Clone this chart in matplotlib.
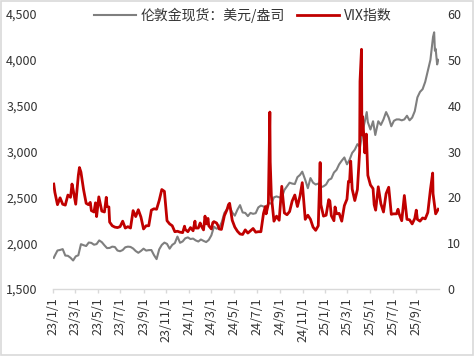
import matplotlib
matplotlib.use("Agg")
import matplotlib.pyplot as plt
import pandas as pd
from matplotlib.patches import Rectangle

plt.rcParams['font.family'] = ['Noto Sans CJK SC', 'DejaVu Sans']

gold_dates = [
 "2023-01-03","2023-01-06","2023-01-13","2023-01-20","2023-01-27","2023-02-03","2023-02-10","2023-02-17","2023-02-24","2023-03-03",
 "2023-03-10","2023-03-17","2023-03-24","2023-03-31","2023-04-07","2023-04-14","2023-04-21","2023-04-28","2023-05-05","2023-05-12",
 "2023-05-19","2023-05-26","2023-06-02","2023-06-09","2023-06-16","2023-06-23","2023-06-30","2023-07-07","2023-07-14","2023-07-21",
 "2023-07-28","2023-08-04","2023-08-11","2023-08-18","2023-08-25","2023-09-01","2023-09-08","2023-09-15","2023-09-22","2023-09-29",
 "2023-10-06","2023-10-13","2023-10-20","2023-10-27","2023-11-03","2023-11-10","2023-11-17","2023-11-24","2023-12-01","2023-12-08",
 "2023-12-15","2023-12-22","2023-12-29",
 "2024-01-05","2024-01-12","2024-01-19","2024-01-26","2024-02-02","2024-02-09","2024-02-16","2024-02-23","2024-03-01","2024-03-08",
 "2024-03-15","2024-03-22","2024-03-29","2024-04-05","2024-04-12","2024-04-19","2024-04-26","2024-05-03","2024-05-10","2024-05-17",
 "2024-05-24","2024-05-31","2024-06-07","2024-06-14","2024-06-21","2024-06-28","2024-07-05","2024-07-12","2024-07-19","2024-07-26",
 "2024-08-02","2024-08-09","2024-08-16","2024-08-23","2024-08-30","2024-09-06","2024-09-13","2024-09-20","2024-09-27","2024-10-04",
 "2024-10-11","2024-10-18","2024-10-25","2024-10-31","2024-11-08","2024-11-15","2024-11-22","2024-11-29","2024-12-06","2024-12-13",
 "2024-12-20","2024-12-27",
 "2025-01-03","2025-01-10","2025-01-17","2025-01-24","2025-01-31","2025-02-07","2025-02-14","2025-02-21","2025-02-28","2025-03-07",
 "2025-03-14","2025-03-21","2025-03-28","2025-04-04","2025-04-11","2025-04-17","2025-04-22","2025-04-25","2025-05-02","2025-05-09",
 "2025-05-15","2025-05-23","2025-05-30","2025-06-06","2025-06-13","2025-06-20","2025-06-27","2025-07-04","2025-07-11","2025-07-18",
 "2025-07-25","2025-08-01","2025-08-08","2025-08-15","2025-08-22","2025-08-29","2025-09-05","2025-09-12","2025-09-19","2025-09-26",
 "2025-10-03","2025-10-10","2025-10-17","2025-10-20","2025-10-22","2025-10-24","2025-10-28","2025-10-31",
]
gold_values = [
 1840,1865,1920,1926,1935,1865,1862,1841,1811,1856,
 1868,1989,1978,1969,2007,2003,1983,1990,2030,2011,
 1977,1946,1948,1962,1958,1920,1912,1925,1955,1962,
 1959,1942,1914,1895,1915,1940,1919,1924,1925,1870,
 1826,1932,1981,2006,1992,1940,1981,2001,2072,2004,
 2019,2053,2063,
 2045,2050,2030,2018,2040,2025,2012,2035,2085,2180,
 2158,2168,2230,2330,2370,2400,2335,2300,2365,2415,
 2335,2330,2295,2330,2320,2327,2390,2410,2400,2385,
 2440,2430,2500,2510,2500,2497,2580,2620,2660,2650,
 2645,2720,2745,2780,2690,2600,2710,2660,2640,2650,
 2610,2620,
 2640,2690,2705,2770,2800,2860,2900,2935,2860,2910,
 2985,3020,3080,3050,3220,3330,3430,3320,3240,3330,
 3180,3330,3290,3350,3430,3370,3275,3335,3350,3350,
 3340,3350,3390,3340,3370,3440,3590,3650,3680,3760,
 3880,4000,4250,4300,4100,4120,3950,4000,
]

vix_dates = [
 "2023-01-03","2023-01-06","2023-01-13","2023-01-20","2023-01-27","2023-02-03","2023-02-10","2023-02-17","2023-02-21","2023-02-24",
 "2023-03-03","2023-03-10","2023-03-13","2023-03-17","2023-03-24","2023-03-31","2023-04-06","2023-04-11","2023-04-14","2023-04-21","2023-04-25",
 "2023-04-28","2023-05-04","2023-05-12","2023-05-19","2023-05-24","2023-05-26","2023-05-31","2023-06-02","2023-06-09","2023-06-16","2023-06-23",
 "2023-06-30","2023-07-07","2023-07-14","2023-07-21","2023-07-28","2023-08-04","2023-08-11","2023-08-18","2023-08-25","2023-09-01",
 "2023-09-08","2023-09-15","2023-09-22","2023-09-29","2023-10-06","2023-10-13","2023-10-20","2023-10-27","2023-11-03","2023-11-10",
 "2023-11-17","2023-11-24","2023-12-01","2023-12-08","2023-12-15","2023-12-20","2023-12-22","2023-12-29",
 "2024-01-05","2024-01-12","2024-01-17","2024-01-19","2024-01-26","2024-01-31","2024-02-02","2024-02-09","2024-02-13","2024-02-16","2024-02-21","2024-02-23",
 "2024-03-01","2024-03-05","2024-03-08","2024-03-15","2024-03-19","2024-03-22","2024-03-28","2024-04-05","2024-04-12","2024-04-16","2024-04-19","2024-04-26",
 "2024-05-03","2024-05-10","2024-05-17","2024-05-24","2024-05-31","2024-06-07","2024-06-14","2024-06-21","2024-06-28","2024-07-05",
 "2024-07-12","2024-07-19","2024-07-24","2024-07-26","2024-08-01","2024-08-02","2024-08-05","2024-08-06","2024-08-09","2024-08-16",
 "2024-08-23","2024-08-30","2024-09-06","2024-09-13","2024-09-20","2024-09-27","2024-10-04","2024-10-11","2024-10-18","2024-10-25",
 "2024-10-31","2024-11-08","2024-11-15","2024-11-22","2024-11-29","2024-12-06","2024-12-13","2024-12-18","2024-12-20","2024-12-27",
 "2025-01-03","2025-01-10","2025-01-13","2025-01-17","2025-01-24","2025-01-27","2025-01-31","2025-02-07","2025-02-14","2025-02-21",
 "2025-02-28","2025-03-04","2025-03-07","2025-03-10","2025-03-14","2025-03-21","2025-03-28","2025-04-03","2025-04-04","2025-04-08",
 "2025-04-09","2025-04-11","2025-04-17","2025-04-21","2025-04-25","2025-05-02","2025-05-09","2025-05-12","2025-05-16","2025-05-23",
 "2025-05-30","2025-06-06","2025-06-13","2025-06-17","2025-06-20","2025-06-27","2025-07-03","2025-07-11","2025-07-15","2025-07-18","2025-07-25","2025-08-01",
 "2025-08-08","2025-08-15","2025-08-22","2025-08-29","2025-09-02","2025-09-05","2025-09-12","2025-09-19","2025-09-26","2025-10-03","2025-10-10",
 "2025-10-16","2025-10-17","2025-10-24","2025-10-31",
]
vix_values = [
 22.9,21.1,18.4,19.9,18.5,18.3,20.5,20.0,22.9,21.7,
 18.5,24.8,26.5,25.5,21.7,18.7,18.4,18.9,17.1,16.8,18.8,
 15.8,20.1,17.0,16.8,20.0,18.0,17.9,14.6,13.8,13.5,13.4,
 13.6,14.8,13.3,13.6,13.3,17.1,15.8,17.3,15.7,13.1,
 13.8,13.8,17.2,17.5,17.4,19.3,21.7,21.3,14.9,14.2,
 13.8,12.5,12.6,12.4,12.3,13.7,13.0,12.5,
 13.4,12.7,14.8,13.3,13.3,14.4,13.9,12.9,15.9,14.2,15.4,13.8,
 13.1,14.5,14.7,14.4,13.8,13.1,13.0,16.0,17.3,18.4,18.7,15.0,
 13.5,12.6,12.0,11.9,12.9,12.2,12.7,13.2,12.4,12.5,
 12.5,16.5,18.0,16.4,18.6,23.4,38.6,27.7,20.4,14.8,
 15.9,15.0,22.4,16.6,16.2,16.9,19.2,20.5,18.0,20.3,
 23.2,15.2,16.1,15.2,13.5,12.8,13.8,27.6,18.4,15.9,
 16.1,19.5,19.2,16.0,14.9,17.9,16.4,16.5,14.8,18.2,
 19.6,23.5,23.4,27.9,21.8,19.3,21.7,30.0,45.3,52.3,
 33.6,37.6,29.7,33.8,24.8,22.7,21.9,18.4,17.2,22.3,
 18.6,16.8,20.8,21.6,22.2,16.3,16.4,16.4,17.4,16.4,14.9,20.4,
 15.2,15.1,14.2,15.4,17.2,15.2,14.8,15.5,15.3,16.7,21.7,
 25.3,20.8,16.4,17.4,
]

tick_dates = ["2023-01-01","2023-03-01","2023-05-01","2023-07-01","2023-09-01","2023-11-01",
              "2024-01-01","2024-03-01","2024-05-01","2024-07-01","2024-09-01","2024-11-01",
              "2025-01-01","2025-03-01","2025-05-01","2025-07-01","2025-09-01"]
tick_labels = ["23/1/1","23/3/1","23/5/1","23/7/1","23/9/1","23/11/1",
               "24/1/1","24/3/1","24/5/1","24/7/1","24/9/1","24/11/1",
               "25/1/1","25/3/1","25/5/1","25/7/1","25/9/1"]
gold_ticks = [1500, 2000, 2500, 3000, 3500, 4000, 4500]
vix_ticks = [0, 10, 20, 30, 40, 50, 60]

gold_label = "伦敦金现货：美元/盎司"
vix_label = "VIX指数"

gd = pd.to_datetime(gold_dates)
vd = pd.to_datetime(vix_dates)
td = pd.to_datetime(tick_dates)

fig = plt.figure(figsize=(4.74, 3.56), dpi=100)
ax = fig.add_axes([53/474, 1 - 289/356, (439 - 53)/474, (289 - 14)/356])
ax2 = ax.twinx()

l1, = ax.plot(gd, gold_values, color="#7f7f7f", lw=1.5, solid_joinstyle="round")
l2, = ax2.plot(vd, vix_values, color="#c00000", lw=2.0, solid_joinstyle="round")

ax.set_ylim(1500, 4500)
ax2.set_ylim(0, 60)
ax.set_xlim(pd.Timestamp("2023-01-01"), pd.Timestamp("2025-11-02"))

ax.set_yticks(gold_ticks)
ax.set_yticklabels([f"{v:,}" for v in gold_ticks])
ax2.set_yticks(vix_ticks)
ax2.set_yticklabels([str(v) for v in vix_ticks])

ax.set_xticks(td)
ax.set_xticklabels(tick_labels, rotation=90, va="top", ha="center")

for a in (ax, ax2):
    for s in ("top", "left", "right", "bottom"):
        a.spines[s].set_visible(False)
ax.spines["bottom"].set_visible(True)
ax.spines["bottom"].set_color("#d9d9d9")
ax.spines["bottom"].set_linewidth(1.0)

ax.tick_params(axis="y", length=0, pad=11, labelsize=9, labelcolor="#333333")
ax2.tick_params(axis="y", length=0, pad=6, labelsize=9, labelcolor="#333333")
ax.tick_params(axis="x", length=3, width=1.0, color="#d9d9d9", pad=3, labelsize=9, labelcolor="#333333")

fig.legend([l1, l2], [gold_label, vix_label], loc="center", bbox_to_anchor=(0.512, 0.958),
           ncol=2, frameon=False, fontsize=10, handlelength=3.0, handletextpad=0.35,
           columnspacing=0.9, labelcolor="#333333")

fig.patches.append(Rectangle((0.002, 0.003), 0.996, 0.994, transform=fig.transFigure,
                             fill=False, edgecolor="#d9d9d9", linewidth=1.2))

fig.savefig("out.png", dpi=100)
